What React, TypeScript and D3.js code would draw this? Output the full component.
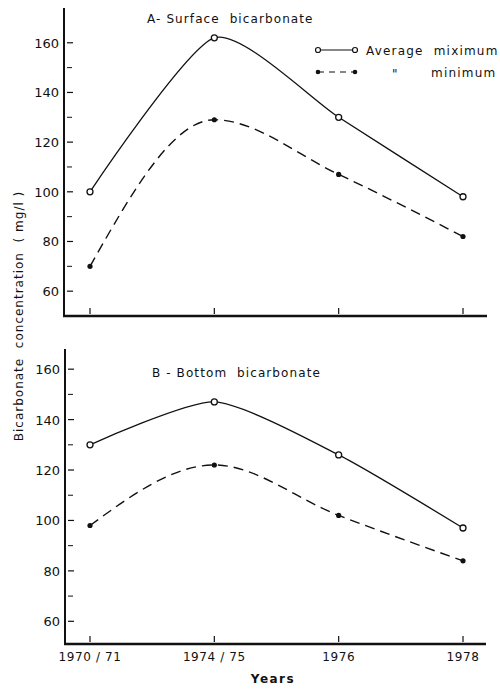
import React, { useEffect, useRef } from 'react';
import * as d3 from 'd3';

// years on the x axis (equally spaced in the original)
const years = ['1970 / 71', '1974 / 75', '1976', '1978'];

// A - surface bicarbonate (mg/l)
const surfaceMax = [100, 162, 130, 98];
const surfaceMin = [70, 129, 107, 82];

// B - bottom bicarbonate (mg/l)
const bottomMax = [130, 147, 126, 97];
const bottomMin = [98, 122, 102, 84];

const majorTicks = [60, 80, 100, 120, 140, 160];
const minorTicks = [70, 90, 110, 130, 150];

const FONT = "'DejaVu Sans', sans-serif";

function App() {
    const ref = useRef<SVGSVGElement>(null);

    useEffect(() => {
        const svg = d3.select(ref.current);
        svg.selectAll('*').remove();

        const x = d3.scalePoint<string>()
            .domain(years)
            .range([90, 463]);

        // hand-drawn look: the max line is drawn fairly taut, the min line rounder
        const lineMax = d3.line<number>()
            .curve(d3.curveCardinal.tension(0.35))
            .x((_, i) => x(years[i]) as number)
            .y(d => d);
        const lineMin = d3.line<number>()
            .curve(d3.curveMonotoneX)
            .x((_, i) => x(years[i]) as number)
            .y(d => d);

        function panel(opts: {
            axisX: number, axisBottom: number, axisTop: number, axisRight: number,
            domain: [number, number], title: string, titleX: number, titleY: number,
            max: number[], min: number[], showXLabels: boolean
        }) {
            const y = d3.scaleLinear()
                .domain(opts.domain)
                .range([opts.axisBottom, opts.axisTop]);

            const g = svg.append('g');

            // axes
            g.append('line')
                .attr('x1', opts.axisX).attr('x2', opts.axisX)
                .attr('y1', opts.axisTop).attr('y2', opts.axisBottom)
                .attr('stroke', '#111').attr('stroke-width', 2);
            g.append('line')
                .attr('x1', opts.axisX - 1).attr('x2', opts.axisRight)
                .attr('y1', opts.axisBottom).attr('y2', opts.axisBottom)
                .attr('stroke', '#111').attr('stroke-width', 2.5);

            // y ticks
            g.selectAll('.major').data(majorTicks).enter().append('line')
                .attr('x1', opts.axisX + 3).attr('x2', opts.axisX + 9)
                .attr('y1', d => y(d)).attr('y2', d => y(d))
                .attr('stroke', '#111').attr('stroke-width', 1.2);
            g.selectAll('.minor').data(minorTicks).enter().append('line')
                .attr('x1', opts.axisX + 3).attr('x2', opts.axisX + 8)
                .attr('y1', d => y(d)).attr('y2', d => y(d))
                .attr('stroke', '#111').attr('stroke-width', 1);
            g.selectAll('.ylab').data(majorTicks).enter().append('text')
                .attr('x', opts.axisX - 5)
                .attr('y', d => y(d) + 5)
                .attr('text-anchor', 'end')
                .attr('font-family', FONT)
                .attr('font-size', 13)
                .attr('fill', '#111')
                .text(d => d);

            // x ticks
            g.selectAll('.xtick').data(years).enter().append('line')
                .attr('x1', d => x(d) as number).attr('x2', d => x(d) as number)
                .attr('y1', opts.axisBottom - 8).attr('y2', opts.axisBottom - 2)
                .attr('stroke', '#111').attr('stroke-width', 1.2);

            if (opts.showXLabels) {
                g.selectAll('.xlab').data(years).enter().append('text')
                    .attr('x', d => x(d) as number)
                    .attr('y', opts.axisBottom + 17)
                    .attr('text-anchor', 'middle')
                    .attr('font-family', FONT)
                    .attr('font-size', 12)
                    .attr('letter-spacing', 0.6)
                    .attr('fill', '#111')
                    .text(d => d);
            }

            // title
            g.append('text')
                .attr('x', opts.titleX).attr('y', opts.titleY)
                .attr('font-family', FONT)
                .attr('font-size', 12)
                .attr('letter-spacing', 1.1)
                .attr('fill', '#111')
                .attr('xml:space', 'preserve')
                .text(opts.title);

            // series
            g.append('path')
                .attr('d', lineMax(opts.max.map(v => y(v))))
                .attr('fill', 'none').attr('stroke', '#111').attr('stroke-width', 1.3);
            g.append('path')
                .attr('d', lineMin(opts.min.map(v => y(v))))
                .attr('fill', 'none').attr('stroke', '#111').attr('stroke-width', 1.4)
                .attr('stroke-dasharray', '10,6');

            g.selectAll('.pmax').data(opts.max).enter().append('circle')
                .attr('cx', (_, i) => x(years[i]) as number)
                .attr('cy', d => y(d))
                .attr('r', 3)
                .attr('fill', '#fff').attr('stroke', '#111').attr('stroke-width', 1.3);
            g.selectAll('.pmin').data(opts.min).enter().append('circle')
                .attr('cx', (_, i) => x(years[i]) as number)
                .attr('cy', d => y(d))
                .attr('r', 2.6)
                .attr('fill', '#111');
        }

        panel({
            axisX: 64, axisBottom: 316, axisTop: 8, axisRight: 487,
            domain: [50, 174], title: 'A- Surface  bicarbonate', titleX: 147, titleY: 23,
            max: surfaceMax, min: surfaceMin, showXLabels: false
        });
        panel({
            axisX: 65, axisBottom: 644, axisTop: 349, axisRight: 486,
            domain: [51, 168], title: 'B - Bottom  bicarbonate', titleX: 152, titleY: 377,
            max: bottomMax, min: bottomMin, showXLabels: true
        });

        // legend
        const leg = svg.append('g');
        leg.append('line').attr('x1', 318).attr('x2', 355).attr('y1', 50).attr('y2', 50)
            .attr('stroke', '#111').attr('stroke-width', 1.2);
        leg.append('circle').attr('cx', 318).attr('cy', 50).attr('r', 2.5)
            .attr('fill', '#fff').attr('stroke', '#111').attr('stroke-width', 1.2);
        leg.append('circle').attr('cx', 355).attr('cy', 50).attr('r', 2.5)
            .attr('fill', '#fff').attr('stroke', '#111').attr('stroke-width', 1.2);
        leg.append('line').attr('x1', 318).attr('x2', 355).attr('y1', 72).attr('y2', 72)
            .attr('stroke', '#111').attr('stroke-width', 1.2).attr('stroke-dasharray', '6,5');
        leg.append('circle').attr('cx', 318).attr('cy', 72).attr('r', 2.3).attr('fill', '#111');
        leg.append('circle').attr('cx', 355).attr('cy', 72).attr('r', 2.3).attr('fill', '#111');
        leg.append('text').attr('x', 366).attr('y', 55)
            .attr('font-family', FONT).attr('font-size', 12).attr('letter-spacing', 1.2)
            .attr('xml:space', 'preserve').attr('fill', '#111')
            .text('Average  miximum');
        leg.append('text').attr('x', 392).attr('y', 78)
            .attr('font-family', FONT).attr('font-size', 12)
            .attr('fill', '#111').text('"');
        leg.append('text').attr('x', 431).attr('y', 77)
            .attr('font-family', FONT).attr('font-size', 12).attr('letter-spacing', 1.2)
            .attr('fill', '#111').text('minimum');

        // axis titles
        svg.append('text')
            .attr('transform', 'translate(23,316) rotate(-90)')
            .attr('text-anchor', 'middle')
            .attr('font-family', FONT).attr('font-size', 12).attr('letter-spacing', 1)
            .attr('xml:space', 'preserve').attr('fill', '#111')
            .text('Bicarbonate  concentration  ( mg/l )');
        svg.append('text')
            .attr('x', 273).attr('y', 683)
            .attr('text-anchor', 'middle')
            .attr('font-family', FONT).attr('font-size', 12).attr('font-weight', 'bold')
            .attr('letter-spacing', 1.5).attr('fill', '#111')
            .text('Years');
    }, []);

    return (
        <svg ref={ref} width={500} height={690}
            style={{ position: 'absolute', left: 0, top: 0, background: '#fff' }} />
    );
}

export default App;
